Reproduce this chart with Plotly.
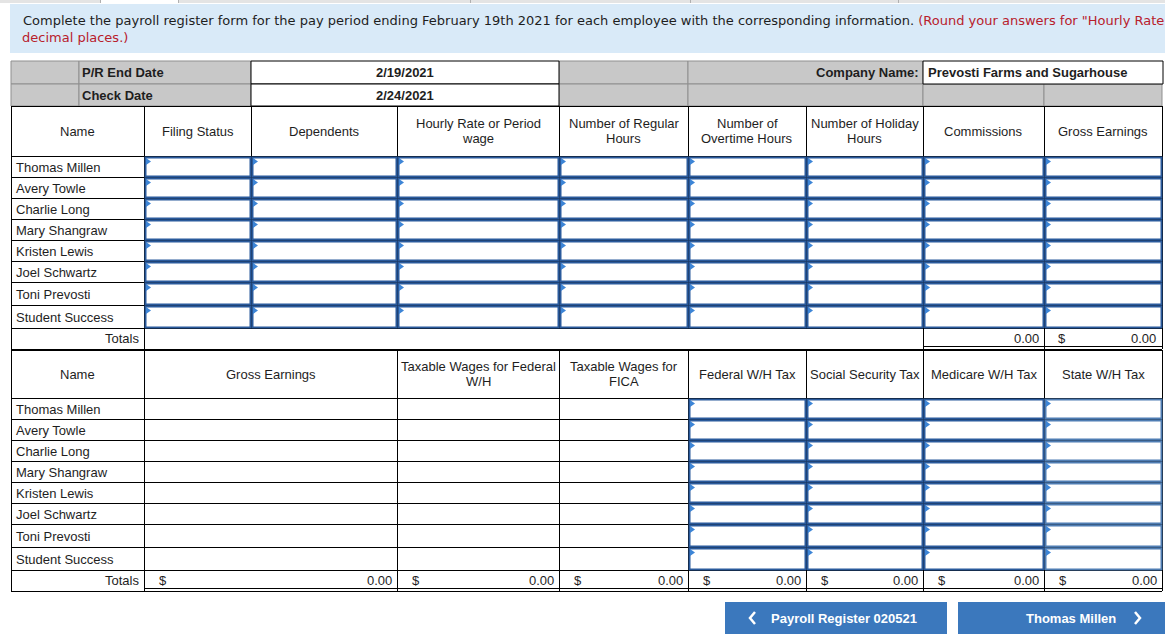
import plotly.graph_objects as go

# ---------------- data ----------------
names = ["Thomas Millen", "Avery Towle", "Charlie Long", "Mary Shangraw",
         "Kristen Lewis", "Joel Schwartz", "Toni Prevosti", "Student Success"]
top_headers = ["Name", "Filing Status", "Dependents", "Hourly Rate or Period|wage",
               "Number of Regular|Hours", "Number of|Overtime Hours",
               "Number of Holiday|Hours", "Commissions", "Gross Earnings"]
bottom_headers = ["Name", "Gross Earnings", "Taxable Wages for Federal|W/H",
                  "Taxable Wages for|FICA", "Federal W/H Tax", "Social Security Tax",
                  "Medicare W/H Tax", "State W/H Tax"]
top_totals = [0.00, 0.00]          # Commissions, Gross Earnings
bottom_totals = [0.00, 0.00, 0.00, 0.00, 0.00, 0.00, 0.00]
pr_end_date = "2/19/2021"
check_date = "2/24/2021"
company_name = "Prevosti Farms and Sugarhouse"
instr_black = "Complete the payroll register form for the pay period ending February 19th 2021 for each employee with the corresponding information. "
instr_red = "(Round your answers for \"Hourly Rate"
instr_red2 = "decimal places.)"
btn_prev = "Payroll Register 020521"
btn_next = "Thomas Millen"

# ---------------- layout constants ----------------
W, H = 1165, 640
ARIAL = "Liberation Sans, Arial, sans-serif"
VERD = "DejaVu Sans, Verdana, sans-serif"
TXT = "#1e1e1e"
GRAY = "#c8c8c8"
GRAYLINE = "#8f8f8f"
BLUE_IN = "#2a5a9c"
BLUE_IN2 = "#4f7db3"
TRI = "#3d85d6"
BTN = "#3b78bd"
RED = "#b8202c"

top_cols = [11, 144, 251, 397, 559, 688, 806, 923, 1044, 1162]
top_rows = [156, 177, 198, 219, 240, 261, 282, 305, 328]
bot_cols = [11, 144, 397, 559, 688, 806, 923, 1044, 1162]
bot_rows = [398, 419, 440, 461, 482, 503, 524, 547, 570]

shapes = []
ann = []


def rect(x0, y0, x1, y1, fill=None, line=None, lw=1):
    shapes.append(dict(type="rect", xref="x", yref="y", x0=x0, y0=y0, x1=x1, y1=y1,
                       fillcolor=fill if fill else "rgba(0,0,0,0)",
                       line=dict(color=line if line else "rgba(0,0,0,0)", width=lw if line else 0),
                       layer="above"))


def hline(x0, x1, y, color="#000", lw=1):
    shapes.append(dict(type="line", xref="x", yref="y", x0=x0, x1=x1, y0=y + 0.5, y1=y + 0.5,
                       line=dict(color=color, width=lw), layer="above"))


def vline(x, y0, y1, color="#000", lw=1):
    shapes.append(dict(type="line", xref="x", yref="y", x0=x + 0.5, x1=x + 0.5, y0=y0, y1=y1,
                       line=dict(color=color, width=lw), layer="above"))


def path(d, fill=None, line=None, lw=1):
    shapes.append(dict(type="path", xref="x", yref="y", path=d,
                       fillcolor=fill if fill else "rgba(0,0,0,0)",
                       line=dict(color=line if line else "rgba(0,0,0,0)", width=lw if line else 0),
                       layer="above"))


def text(x, y, s, anchor="left", size=13, bold=False, color=TXT, font=ARIAL):
    if bold:
        s = "<b>" + s + "</b>"
    ann.append(dict(x=x, y=y, xref="x", yref="y", text=s, showarrow=False,
                    xanchor=anchor, yanchor="middle", align=anchor if anchor != "middle" else "center",
                    font=dict(family=font, size=size, color=color), borderpad=0))


def header_text(cx, y0, y1, label):
    parts = label.split("|")
    mid = (y0 + y1) / 2
    if len(parts) == 1:
        text(cx, mid, parts[0], anchor="center")
    else:
        text(cx, mid - 7.5, parts[0], anchor="center")
        text(cx, mid + 7.5, parts[1], anchor="center")


def input_cell(x0, y0, x1, y1, color=BLUE_IN):
    rect(x0 + 1.5, y0 + 1.5, x1 - 0.5, y1 - 0.5, fill="white", line=color, lw=2)
    path(f"M{x0+2},{y0+2} L{x0+7},{y0+5.5} L{x0+2},{y0+9} Z", fill=TRI)


# ---------------- top tab strip ----------------
rect(0, 0, W, 3, fill="#e4e4e4")
rect(100, 0, 178, 3, fill="white")
for xv in [100, 178, 470, 690, 898]:
    vline(xv, 0, 3, color="#b0b0b0")

# ---------------- instruction box ----------------
rect(10, 4, W + 5, 53, fill="#d9eaf8")
ann.append(dict(x=21, y=20, xref="x", yref="y", showarrow=False, xanchor="left", yanchor="middle",
                text=instr_black + "<span style='color:" + RED + "'>" + instr_red + "</span>",
                font=dict(family=VERD, size=13, color=TXT)))
text(21, 37, instr_red2, size=13, color=RED, font=VERD)

# ---------------- date / company rows ----------------
r1 = (61, 84)
r2 = (84, 106)
for (a, b) in [(11, 79), (79, 251), (559, 688), (688, 923)]:
    rect(a, r1[0], b, r1[1], fill=GRAY, line=GRAYLINE)
for (a, b) in [(11, 79), (79, 251), (559, 688), (688, 923), (923, 1044), (1044, 1162)]:
    rect(a, r2[0], b, r2[1], fill=GRAY, line=GRAYLINE)
rect(251, r1[0], 559, r1[1], fill="white", line="#000")
rect(251, r2[0], 559, r2[1], fill="white", line="#000")
rect(923, r1[0], 1163, r1[1], fill="white", line="#000")
text(81, 72.5, "P/R End Date", bold=True)
text(81, 95, "Check Date", bold=True)
text(405, 72.5, pr_end_date, anchor="center", bold=True)
text(405, 95, check_date, anchor="center", bold=True)
text(920, 72.5, "Company Name:", anchor="right", bold=True)
text(927, 72.5, company_name, bold=True)

# ---------------- top table ----------------
hy0, hy1 = 106, 156
hline(11, 1162, hy0)
for i in range(len(top_cols) - 1):
    header_text((top_cols[i] + top_cols[i + 1]) / 2, hy0, hy1, top_headers[i])
for y in [hy1] + top_rows[1:]:
    hline(11, 1162, y)
for xv in top_cols:
    vline(xv, hy0, top_rows[-1])
for r, nm in enumerate(names):
    y0, y1 = top_rows[r], top_rows[r + 1]
    text(15, (y0 + y1) / 2 + 0.5, nm)
    for c in range(1, len(top_cols) - 1):
        input_cell(top_cols[c], y0, top_cols[c + 1], y1)
ty0, ty1 = top_rows[-1], 349
ty = (ty0 + ty1) / 2
text(140, ty, "Totals", anchor="right")
for xv in [11, 144, 923, 1044, 1162]:
    vline(xv, ty0, ty1)
text(1040, ty, f"{top_totals[0]:.2f}", anchor="right")
text(1057, ty, "$")
text(1157, ty, f"{top_totals[1]:.2f}", anchor="right")
hline(923, 1162, 346)
hline(11, 1162, ty1)

# ---------------- bottom table ----------------
by0, by1 = 350, 398
hline(11, 1162, by0)
for i in range(len(bot_cols) - 1):
    header_text((bot_cols[i] + bot_cols[i + 1]) / 2, by0, by1, bottom_headers[i])
for y in [by1] + bot_rows[1:]:
    hline(11, 1162, y)
for xv in bot_cols:
    vline(xv, by0, bot_rows[-1])
for r, nm in enumerate(names):
    y0, y1 = bot_rows[r], bot_rows[r + 1]
    text(15, (y0 + y1) / 2 + 0.5, nm)
    for c in range(4, len(bot_cols) - 1):
        input_cell(bot_cols[c], y0, bot_cols[c + 1], y1,
                   color=BLUE_IN2 if c == len(bot_cols) - 2 else BLUE_IN)
tb0, tb1 = bot_rows[-1], 591
tby = (tb0 + 589) / 2 + 0.5
text(140, tby, "Totals", anchor="right")
for xv in bot_cols:
    vline(xv, tb0, tb1)
for c, v in enumerate(bottom_totals):
    x0, x1 = bot_cols[c + 1], bot_cols[c + 2]
    text(x0 + 14, tby, "$")
    text(x1 - 4, tby, f"{v:.2f}", anchor="right")
hline(144, 1162, 588)
hline(11, 1162, tb1)

# ---------------- buttons ----------------
rect(725, 602, 947, 634, fill=BTN)
rect(958, 602, 1170, 634, fill=BTN)
path("M755,612 L750,618 L755,624", line="white", lw=2.5)
path("M1135,612 L1140,618 L1135,624", line="white", lw=2.5)
text(844, 618, btn_prev, anchor="center", bold=True, color="white")
text(1071, 618, btn_next, anchor="center", bold=True, color="white")

fig = go.Figure()
fig.add_trace(go.Scatter(x=[0], y=[0], mode="markers", marker=dict(opacity=0), hoverinfo="skip"))
fig.update_layout(
    width=W, height=H, margin=dict(l=0, r=0, t=0, b=0),
    paper_bgcolor="white", plot_bgcolor="white", showlegend=False,
    xaxis=dict(range=[0, W], visible=False, fixedrange=True),
    yaxis=dict(range=[H, 0], visible=False, fixedrange=True),
    shapes=shapes, annotations=ann,
)
fig.write_html("out.html", config={"displayModeBar": False},
               post_script="document.body.style.margin='0';document.body.style.overflow='hidden';")
